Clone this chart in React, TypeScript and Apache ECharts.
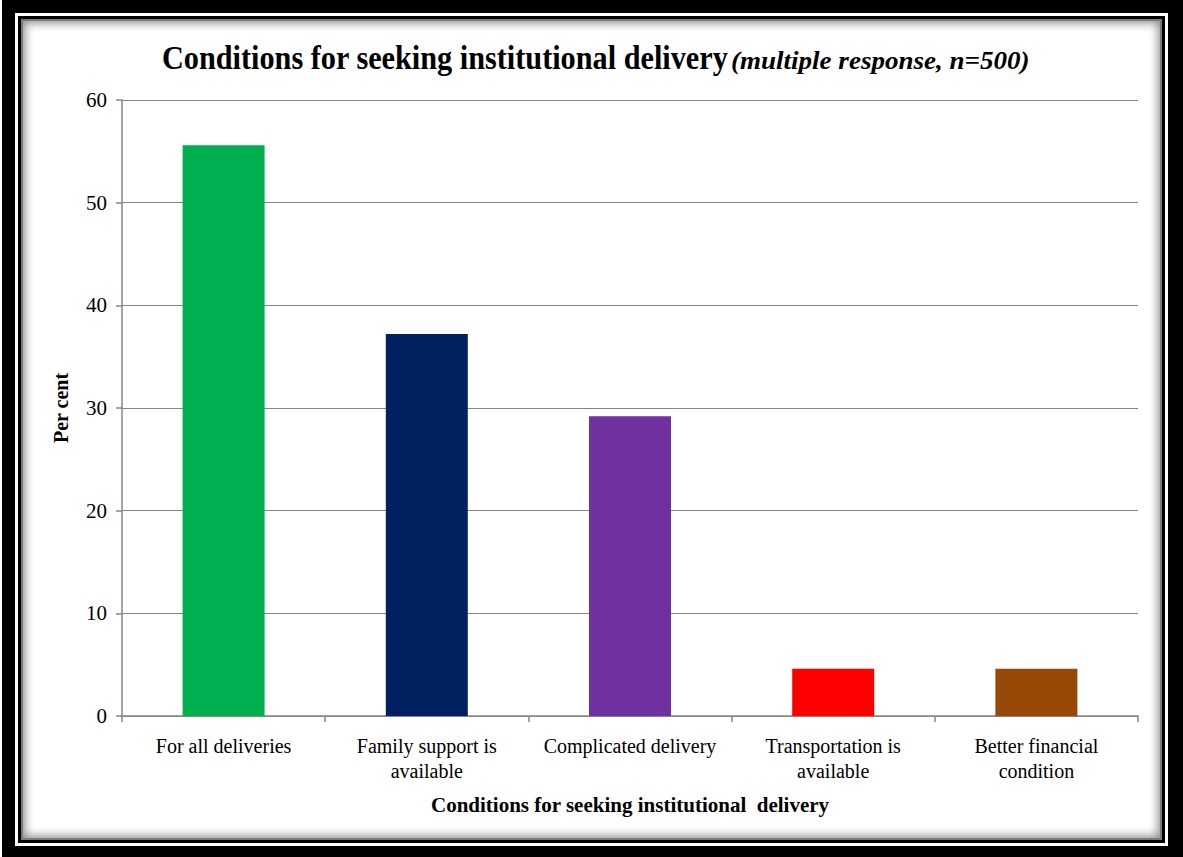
import React, { useEffect, useRef } from "react";
import * as echarts from "echarts";

const categories = [
  "For all deliveries",
  "Family support is\navailable",
  "Complicated delivery",
  "Transportation is\navailable",
  "Better financial\ncondition",
];
const values = [55.6, 37.2, 29.2, 4.6, 4.6];
const barColors = ["#00B050", "#002060", "#7030A0", "#FF0000", "#974706"];
const yTicks = { min: 0, max: 60, interval: 10 };
const titleMain = "Conditions for seeking institutional delivery";
const titleSub = "(multiple response, n=500)";

const SERIF = "Liberation Serif";

export default function App() {
  const ref = useRef<HTMLDivElement>(null);
  useEffect(() => {
    document.body.style.margin = "0";
    const chart = echarts.init(ref.current!, undefined, { renderer: "svg" });
    chart.setOption({
      animation: false,
      textStyle: { fontFamily: SERIF },
      graphic: [
        {
          type: "text",
          x: 162,
          y: 57,
          scaleX: 0.89,
          style: {
            text: titleMain,
            fontFamily: SERIF,
            fontWeight: "bold",
            fontSize: 34,
            fill: "#000",
            textAlign: "left",
            textVerticalAlign: "middle",
          },
        },
        {
          type: "text",
          x: 731,
          y: 60,
          scaleX: 1.04,
          style: {
            text: titleSub,
            fontFamily: SERIF,
            fontWeight: "bold",
            fontStyle: "italic",
            fontSize: 26,
            fill: "#000",
            textAlign: "left",
            textVerticalAlign: "middle",
          },
        },
      ],
      grid: { left: 122, right: 45, top: 100, bottom: 141, containLabel: false },
      xAxis: {
        type: "category",
        data: categories,
        name: "Conditions for seeking institutional  delivery",
        nameLocation: "middle",
        nameGap: 78,
        nameTextStyle: { fontFamily: SERIF, fontWeight: "bold", fontSize: 21, color: "#000" },
        axisLine: { lineStyle: { color: "#868686", width: 1.5 } },
        axisTick: { show: true, alignWithLabel: false, length: 6, lineStyle: { color: "#868686", width: 1.5 } },
        axisLabel: { fontFamily: SERIF, fontSize: 20, color: "#000", margin: 17, lineHeight: 25, interval: 0 },
      },
      yAxis: {
        type: "value",
        min: yTicks.min,
        max: yTicks.max,
        interval: yTicks.interval,
        name: "Per cent",
        nameLocation: "middle",
        nameGap: 51,
        nameTextStyle: { fontFamily: SERIF, fontWeight: "bold", fontSize: 20, color: "#000" },
        axisLine: { show: true, lineStyle: { color: "#868686", width: 1.5 } },
        axisTick: { show: true, length: 6, lineStyle: { color: "#868686", width: 1.5 } },
        axisLabel: { fontFamily: SERIF, fontSize: 21, color: "#000", margin: 15 },
        splitLine: { lineStyle: { color: "#868686", width: 1 } },
      },
      series: [
        {
          type: "bar",
          data: values.map((v, i) => ({ value: v, itemStyle: { color: barColors[i] } })),
          barWidth: 82,
        },
      ],
    });
    return () => chart.dispose();
  }, []);

  const abs = (l: number, t: number, w: number, h: number, extra: React.CSSProperties = {}): React.CSSProperties => ({
    position: "absolute",
    left: l,
    top: t,
    width: w,
    height: h,
    ...extra,
  });

  return (
    <div style={{ position: "relative", width: 1183, height: 857, background: "#fff", overflow: "hidden" }}>
      <div style={abs(2, 0, 1181, 857, { background: "#000" })} />
      <div style={abs(15, 13, 1153, 833, { background: "#fff" })} />
      <div style={abs(18, 16, 1147, 827, { background: "#000" })} />
      <div style={abs(21, 19, 1141, 821, { background: "#7a7a7a" })} />
      <div
        style={abs(23, 21, 1137, 817, {
          background: "#fff",
          boxShadow: "inset 0 0 10px 2px rgba(0,0,0,0.45)",
        })}
      />
      <div ref={ref} style={abs(0, 0, 1183, 857)} />
    </div>
  );
}
